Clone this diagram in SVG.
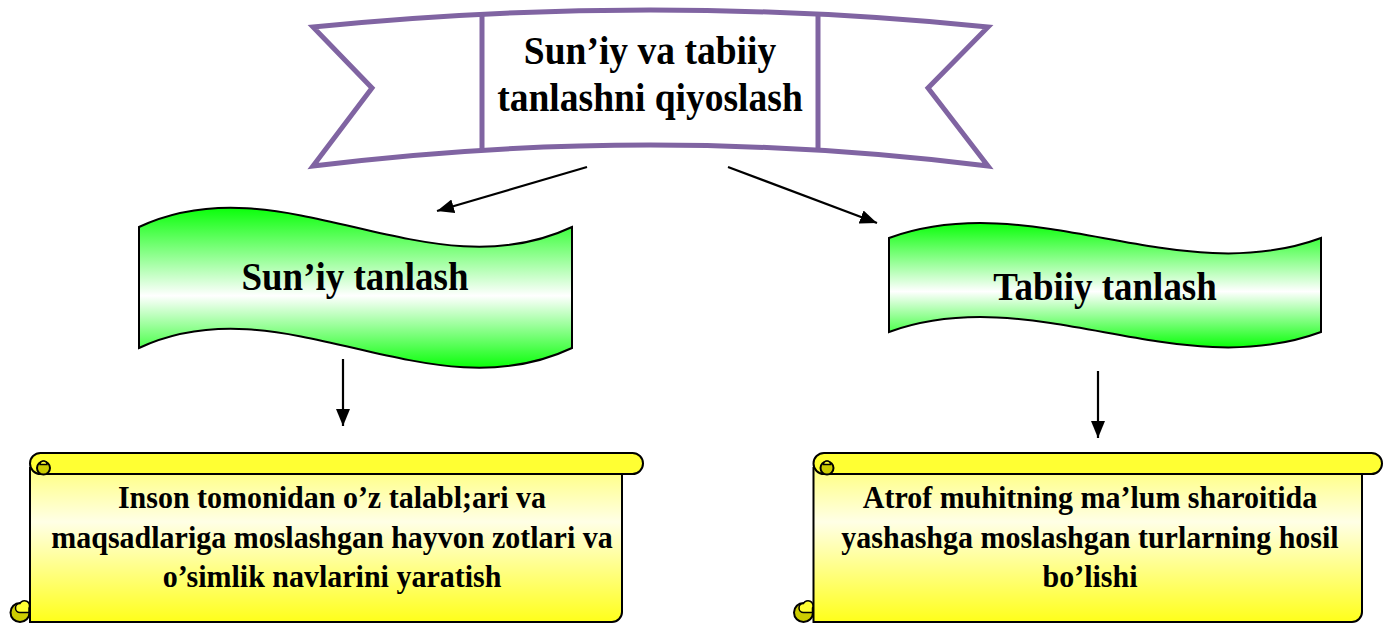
<svg xmlns="http://www.w3.org/2000/svg" width="1384" height="623" viewBox="0 0 1384 623">
<defs>
<linearGradient id="green" x1="0" y1="0" x2="0" y2="1">
<stop offset="0" stop-color="#0AFF0A"/>
<stop offset="0.55" stop-color="#FFFFFF"/>
<stop offset="1" stop-color="#0AFF0A"/>
</linearGradient>
<linearGradient id="yellow" x1="0" y1="0" x2="0" y2="1">
<stop offset="0" stop-color="#FFFF80"/>
<stop offset="0.35" stop-color="#FFFFE6"/>
<stop offset="1" stop-color="#FFFF1A"/>
</linearGradient>
<marker id="arrow" markerUnits="userSpaceOnUse" markerWidth="18" markerHeight="14" refX="17" refY="7" orient="auto">
<path d="M0,0 L17,7 L0,14 Z" fill="#000"/>
</marker>
</defs>
<style>
.t{font-family:"Liberation Serif","Times New Roman",serif;font-weight:bold;fill:#000;text-anchor:middle}
.big{font-size:40.8px}
.mid{font-size:40.2px}
.sm{font-size:32.6px}
.rib{fill:#fff;stroke:#8064A2;stroke-width:5;stroke-linejoin:miter}
.ribl{fill:none;stroke:#8064A2;stroke-width:5}
.wave{fill:url(#green);stroke:#000;stroke-width:2}
.body{fill:url(#yellow);stroke:#000;stroke-width:2}
.roll{fill:#FFFF33;stroke:#000;stroke-width:2}
.curl{fill:#CCCC00;stroke:#000;stroke-width:2}
.curlin{fill:#FFFF33;stroke:#000;stroke-width:1.5}
.conn{stroke:#000;stroke-width:2.2;fill:none;marker-end:url(#arrow)}
</style>

<g id="title">
<path class="rib" d="M313,27 Q650,-7 988,27 L928,88 L988,166 Q650,124 313,166 L372,88 Z"/>
<line class="ribl" x1="482" y1="15" x2="482" y2="151"/>
<line class="ribl" x1="818" y1="15" x2="818" y2="151"/>
<text class="t big" transform="translate(650,64) scale(0.92,1)">Sun’iy va tabiiy</text>
<text class="t big" transform="translate(650,111) scale(0.92,1)">tanlashni qiyoslash</text>
</g>

<g id="suniy">
<path class="wave" d="M139,227 C283,160 428,295 572,227 L572,348 C428,416 283,281 139,348 Z"/>
<text class="t mid" transform="translate(355,290) scale(0.92,1)">Sun’iy tanlash</text>
</g>

<g id="tabiiy">
<path class="wave" d="M889,238 C1033,186 1177,291 1321,238 L1321,332 C1177,385 1033,280 889,332 Z"/>
<text class="t mid" transform="translate(1105,300) scale(0.92,1)">Tabiiy tanlash</text>
</g>

<g id="suniy-desc">
<path class="body" d="M30,468 V622 H612 A10,10 0 0 0 622,612 V468 Z"/>
<circle class="curl" cx="20" cy="612.5" r="9.5"/>
<path class="curlin" d="M20,612.5 A4.5,4.5 0 0 1 20,603.5 A4.5,4.5 0 0 1 29,608 V612.5 Z"/>
<path class="roll" d="M40.5,453 H632.5 A10.5,10.5 0 0 1 632.5,474 H40.5 A10.5,10.5 0 0 1 40.5,453 Z"/>
<circle class="curl" cx="43.5" cy="468" r="6.5"/>
<path class="curlin" d="M40,464.5 A3.5,3.5 0 0 1 47,464.5 Z"/>
<text class="t sm" transform="translate(332,508) scale(0.92,1)">Inson tomonidan o’z talabl;ari va</text>
<text class="t sm" transform="translate(332,548) scale(0.92,1)">maqsadlariga moslashgan hayvon zotlari va</text>
<text class="t sm" transform="translate(332,587) scale(0.92,1)">o’simlik navlarini yaratish</text>
</g>

<g id="tabiiy-desc">
<path class="body" d="M813.5,468 V622 H1352 A10,10 0 0 0 1362,612 V468 Z"/>
<circle class="curl" cx="803.5" cy="612.5" r="9.5"/>
<path class="curlin" d="M803.5,612.5 A4.5,4.5 0 0 1 803.5,603.5 A4.5,4.5 0 0 1 812.5,608 V612.5 Z"/>
<path class="roll" d="M824,453 H1371.5 A10.5,10.5 0 0 1 1371.5,474 H824 A10.5,10.5 0 0 1 824,453 Z"/>
<circle class="curl" cx="827" cy="468" r="6.5"/>
<path class="curlin" d="M823.5,464.5 A3.5,3.5 0 0 1 830.5,464.5 Z"/>
<text class="t sm" transform="translate(1090,508) scale(0.92,1)">Atrof muhitning ma’lum sharoitida</text>
<text class="t sm" transform="translate(1090,548) scale(0.92,1)">yashashga moslashgan turlarning hosil</text>
<text class="t sm" transform="translate(1090,587) scale(0.92,1)">bo’lishi</text>
</g>

<g id="connectors">
<line class="conn" x1="587" y1="167" x2="437" y2="211"/>
<line class="conn" x1="728" y1="167" x2="877" y2="223"/>
<line class="conn" x1="343" y1="359" x2="343" y2="426"/>
<line class="conn" x1="1098" y1="371" x2="1098" y2="438"/>
</g>
</svg>
